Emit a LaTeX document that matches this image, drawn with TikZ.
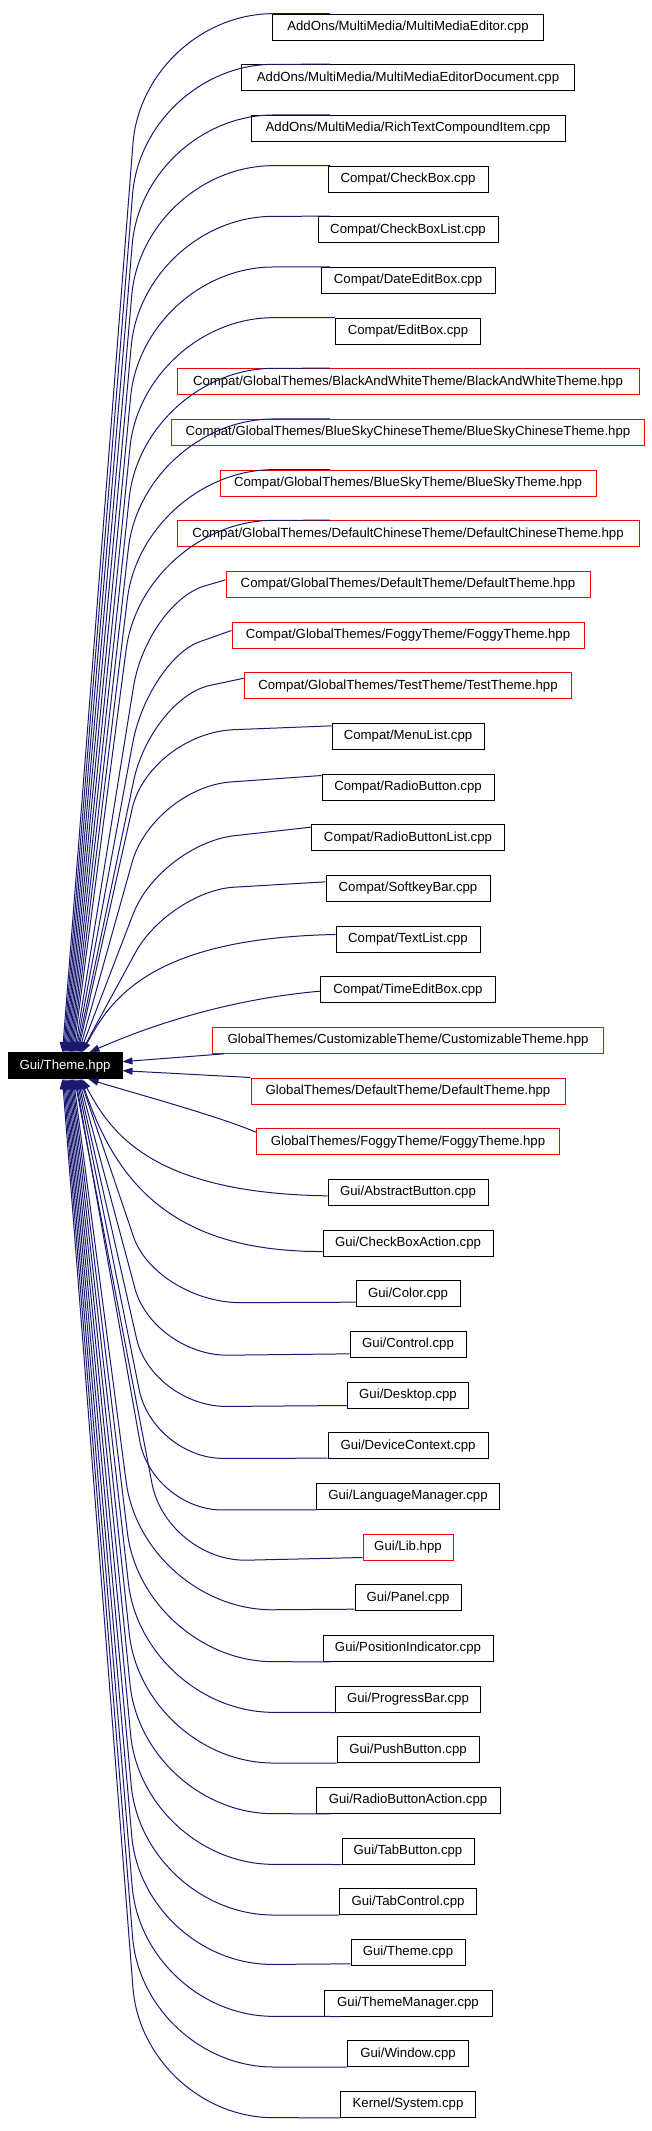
\documentclass[tikz,border=0pt]{standalone}
\usepackage{fontspec}
\setmainfont{Liberation Sans}
\usetikzlibrary{arrows.meta,calc}
\definecolor{edgeblue}{HTML}{191970}
\definecolor{boxred}{HTML}{FF0000}
% corner-shaped connector: #1 end on target, #2 corner, #3/#4 bend radii, #5 point on source
\newcommand\cornedge[5]{%
  \path #1 coordinate (eE);
  \path #5 coordinate (eS);
  \coordinate (eC) at #2;
  \coordinate (eA) at ($(eC)!#3!(eE)$);
  \coordinate (eB) at ($(eC)!#4!(eS)$);
  \draw[depline] (eE) -- (eA) .. controls ($(eA)!0.55!(eC)$) and ($(eB)!0.55!(eC)$) .. (eB) -- (eS);
}
% single cubic connector: #1 end on target, #2 #3 controls, #4 point on source
\newcommand\bezedge[4]{%
  \path #1 coordinate (eE);
  \path #4 coordinate (eS);
  \draw[depline] (eE) .. controls #2 and #3 .. (eS);
}
\begin{document}
\begin{tikzpicture}[x=1pt,y=-1pt,
  tbox/.style={draw=black, line width=1pt, fill=white, minimum height=26pt,
    inner xsep=3pt, inner ysep=0pt, font=\fontsize{13.2pt}{15pt}\selectfont, text=black},
  rbox/.style={tbox, draw=boxred},
  srcbox/.style={tbox, fill=black, draw=black, text=white},
  depline/.style={draw=edgeblue, line width=1pt, -{Triangle[length=10pt,width=7pt]}}]
\useasboundingbox (0,0) rectangle (651,2131);
\coordinate (xe) at (330,0);

\node[srcbox, minimum width=114pt] (src) at (65,1065.67) {Gui/Theme.hpp};

\node[tbox, minimum width=271pt] (t1) at (408,27) {AddOns/MultiMedia/MultiMediaEditor.cpp};
\node[tbox, minimum width=333pt] (t2) at (408,77.67) {AddOns/MultiMedia/MultiMediaEditorDocument.cpp};
\node[tbox, minimum width=314pt] (t3) at (408,128.33) {AddOns/MultiMedia/RichTextCompoundItem.cpp};
\node[tbox, minimum width=160pt] (t4) at (408,179) {Compat/CheckBox.cpp};
\node[tbox, minimum width=180pt] (t5) at (408,229.67) {Compat/CheckBoxList.cpp};
\node[tbox, minimum width=174pt] (t6) at (408,280.33) {Compat/DateEditBox.cpp};
\node[tbox, minimum width=145pt] (t7) at (408,331) {Compat/EditBox.cpp};
\node[rbox, minimum width=462pt] (t8) at (408,381.67) {Compat/GlobalThemes/BlackAndWhiteTheme/BlackAndWhiteTheme.hpp};
\node[rbox, minimum width=473pt] (t9) at (408,432.33) {Compat/GlobalThemes/BlueSkyChineseTheme/BlueSkyChineseTheme.hpp};
\node[rbox, minimum width=376pt] (t10) at (408,483) {Compat/GlobalThemes/BlueSkyTheme/BlueSkyTheme.hpp};
\node[rbox, minimum width=462pt] (t11) at (408,533.67) {Compat/GlobalThemes/DefaultChineseTheme/DefaultChineseTheme.hpp};
\node[rbox, minimum width=364pt] (t12) at (408,584.33) {Compat/GlobalThemes/DefaultTheme/DefaultTheme.hpp};
\node[rbox, minimum width=352pt] (t13) at (408,635) {Compat/GlobalThemes/FoggyTheme/FoggyTheme.hpp};
\node[rbox, minimum width=327pt] (t14) at (408,685.67) {Compat/GlobalThemes/TestTheme/TestTheme.hpp};
\node[tbox, minimum width=152pt] (t15) at (408,736.33) {Compat/MenuList.cpp};
\node[tbox, minimum width=172pt] (t16) at (408,787) {Compat/RadioButton.cpp};
\node[tbox, minimum width=193pt] (t17) at (408,837.67) {Compat/RadioButtonList.cpp};
\node[tbox, minimum width=164pt] (t18) at (408,888.33) {Compat/SoftkeyBar.cpp};
\node[tbox, minimum width=144pt] (t19) at (408,939) {Compat/TextList.cpp};
\node[tbox, minimum width=175pt] (t20) at (408,989.67) {Compat/TimeEditBox.cpp};
\node[rbox, minimum width=391pt] (t21) at (408,1040.33) {GlobalThemes/CustomizableTheme/CustomizableTheme.hpp};
\node[rbox, minimum width=314pt] (t22) at (408,1091) {GlobalThemes/DefaultTheme/DefaultTheme.hpp};
\node[rbox, minimum width=303pt] (t23) at (408,1141.67) {GlobalThemes/FoggyTheme/FoggyTheme.hpp};
\node[tbox, minimum width=160pt] (t24) at (408,1192.33) {Gui/AbstractButton.cpp};
\node[tbox, minimum width=170pt] (t25) at (408,1243) {Gui/CheckBoxAction.cpp};
\node[tbox, minimum width=104pt] (t26) at (408,1293.67) {Gui/Color.cpp};
\node[tbox, minimum width=116pt] (t27) at (408,1344.33) {Gui/Control.cpp};
\node[tbox, minimum width=121pt] (t28) at (408,1395) {Gui/Desktop.cpp};
\node[tbox, minimum width=160pt] (t29) at (408,1445.67) {Gui/DeviceContext.cpp};
\node[tbox, minimum width=183pt] (t30) at (408,1496.33) {Gui/LanguageManager.cpp};
\node[rbox, minimum width=90pt] (t31) at (408,1547) {Gui/Lib.hpp};
\node[tbox, minimum width=106pt] (t32) at (408,1597.67) {Gui/Panel.cpp};
\node[tbox, minimum width=170pt] (t33) at (408,1648.33) {Gui/PositionIndicator.cpp};
\node[tbox, minimum width=145pt] (t34) at (408,1699) {Gui/ProgressBar.cpp};
\node[tbox, minimum width=142pt] (t35) at (408,1749.67) {Gui/PushButton.cpp};
\node[tbox, minimum width=184pt] (t36) at (408,1800.33) {Gui/RadioButtonAction.cpp};
\node[tbox, minimum width=132pt] (t37) at (408,1851) {Gui/TabButton.cpp};
\node[tbox, minimum width=137pt] (t38) at (408,1901.67) {Gui/TabControl.cpp};
\node[tbox, minimum width=114pt] (t39) at (408,1952.33) {Gui/Theme.cpp};
\node[tbox, minimum width=168pt] (t40) at (408,2003) {Gui/ThemeManager.cpp};
\node[tbox, minimum width=121pt] (t41) at (408,2053.67) {Gui/Window.cpp};
\node[tbox, minimum width=135pt] (t42) at (408,2104.33) {Kernel/System.cpp};

% upper connectors
\cornedge{(t1.north -| xe)}{(143,14)}{130pt}{130pt}{([xshift=55pt]src.north west)}
\cornedge{(t2.north -| xe)}{(143,64.67)}{130pt}{130pt}{([xshift=56.1pt]src.north west)}
\cornedge{(t3.north -| xe)}{(143,115.33)}{130pt}{130pt}{([xshift=57.2pt]src.north west)}
\cornedge{(t4.north -| xe)}{(143,166)}{130pt}{130pt}{([xshift=58.3pt]src.north west)}
\cornedge{(t5.north -| xe)}{(143,216.67)}{130pt}{130pt}{([xshift=59.4pt]src.north west)}
\cornedge{(t6.north -| xe)}{(143,267.33)}{130pt}{130pt}{([xshift=60.5pt]src.north west)}
\cornedge{(t7.north west)}{(143,318)}{130pt}{130pt}{([xshift=61.6pt]src.north west)}
\cornedge{(t8.north -| xe)}{(143,368.67)}{130pt}{130pt}{([xshift=62.7pt]src.north west)}
\cornedge{(t9.north -| xe)}{(143,419.33)}{130pt}{130pt}{([xshift=63.8pt]src.north west)}
\cornedge{(t10.north -| xe)}{(143,470)}{130pt}{130pt}{([xshift=64.9pt]src.north west)}
\cornedge{(t11.north -| xe)}{(143,520.67)}{130pt}{130pt}{([xshift=66pt]src.north west)}
\cornedge{([yshift=-9pt]t12.north west)}{(147,603)}{60pt}{85pt}{([xshift=67.1pt]src.north west)}
\cornedge{([yshift=-9pt]t13.north west)}{(148,660)}{55pt}{85pt}{([xshift=68.2pt]src.north west)}
\cornedge{([yshift=-6pt]t14.north west)}{(151,698)}{60pt}{85pt}{([xshift=69.3pt]src.north west)}
\cornedge{([yshift=-3pt]t15.north west)}{(149,733)}{85pt}{78pt}{([xshift=70.4pt]src.north west)}
\cornedge{([yshift=-2pt]t16.north west)}{(153,787.5)}{78pt}{78pt}{([xshift=71.5pt]src.north west)}
\cornedge{([yshift=-3pt]t17.north west)}{(160,844)}{75pt}{75pt}{([xshift=72.6pt]src.north west)}
\cornedge{([yshift=-7pt]t18.north west)}{(169,891)}{65pt}{70pt}{([xshift=73.7pt]src.north west)}
\bezedge{([yshift=-9pt]t19.north west)}{(150,938)}{(110,1000)}{([xshift=74.8pt]src.north west)}
\bezedge{([yshift=-15pt]t20.north west)}{(220,1000)}{(140,1030)}{([xshift=82pt]src.north west)}
\draw[depline] ([xshift=12pt]t21.south west) -- ([yshift=4pt]src.east);
\draw[depline] (t22.north west) -- ([yshift=-5pt]src.east);
% lower connectors
\bezedge{([yshift=-4pt]t23.north west)}{(215,1115)}{(140,1095)}{([xshift=81pt]src.south west)}
\bezedge{([yshift=10pt]t24.south west)}{(150,1193.3)}{(110,1131.3)}{([xshift=74.8pt]src.south west)}
\bezedge{([yshift=5pt]t25.south west)}{(170,1252)}{(115,1180)}{([xshift=73.7pt]src.south west)}
\cornedge{([yshift=5pt]t26.south west)}{(156,1303)}{85pt}{70pt}{([xshift=72.6pt]src.south west)}
\cornedge{([yshift=4pt]t27.south west)}{(153,1356)}{75pt}{70pt}{([xshift=71.5pt]src.south west)}
\cornedge{([yshift=3pt]t28.south west)}{(152,1407)}{75pt}{70pt}{([xshift=70.4pt]src.south west)}
\cornedge{([yshift=1pt]t29.south west)}{(153,1458.5)}{70pt}{70pt}{([xshift=69.3pt]src.south west)}
\cornedge{(t30.south west)}{(152,1510)}{70pt}{70pt}{([xshift=68.2pt]src.south west)}
\cornedge{([yshift=3pt]t31.south west)}{(167,1562)}{80pt}{80pt}{([xshift=67.1pt]src.south west)}
\cornedge{([yshift=2pt]t32.south west)}{(143,1610.67)}{130pt}{130pt}{([xshift=66pt]src.south west)}
\cornedge{(t33.south -| xe)}{(143,1661.33)}{130pt}{130pt}{([xshift=64.9pt]src.south west)}
\cornedge{([xshift=3pt]t34.south west)}{(143,1712)}{130pt}{130pt}{([xshift=63.8pt]src.south west)}
\cornedge{(t35.south west)}{(143,1762.67)}{130pt}{130pt}{([xshift=62.7pt]src.south west)}
\cornedge{(t36.south -| xe)}{(143,1813.33)}{130pt}{130pt}{([xshift=61.6pt]src.south west)}
\cornedge{(t37.south west)}{(143,1864)}{130pt}{130pt}{([xshift=60.5pt]src.south west)}
\cornedge{(t38.south west)}{(143,1914.67)}{130pt}{130pt}{([xshift=59.4pt]src.south west)}
\cornedge{([yshift=2pt]t39.south west)}{(143,1965.33)}{130pt}{130pt}{([xshift=58.3pt]src.south west)}
\cornedge{([xshift=17pt]t40.south west)}{(143,2016)}{130pt}{130pt}{([xshift=57.2pt]src.south west)}
\cornedge{(t41.south west)}{(143,2066.67)}{130pt}{130pt}{([xshift=56.1pt]src.south west)}
\cornedge{(t42.south west)}{(143,2117.33)}{130pt}{130pt}{([xshift=55pt]src.south west)}
\end{tikzpicture}
\end{document}
